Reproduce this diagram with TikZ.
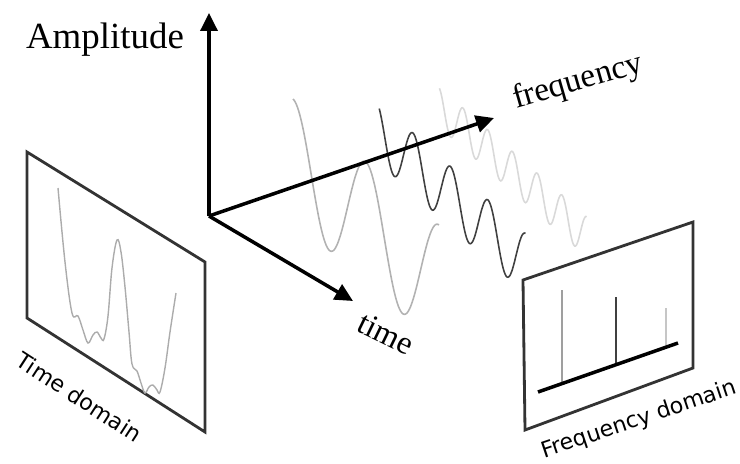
\documentclass[tikz,border=0pt]{standalone}
\usepackage{fontspec}
\setmainfont{Liberation Serif}
\newfontfamily\panelfont{DejaVu Sans}
\usetikzlibrary{arrows.meta}

\begin{document}
\begin{tikzpicture}[
    x=0.02cm,
    y=-0.02cm,
    axis/.style={
        line width=2pt,
        -{Triangle[width=0.34cm,length=0.36cm]}
    },
    panel/.style={
        draw=black!80,
        line width=1.6pt
    },
    wave/.style={
        draw=#1,
        line width=0.9pt,
        samples=160,
        smooth,
        variable=\t
    },
    spike/.style={
        draw=#1,
        line width=1.5pt
    },
    axislabel/.style={
        inner sep=0pt,
        font=\fontsize{#1}{#1}\selectfont
    },
    panellabel/.style={
        inner sep=0pt,
        font=\panelfont\fontsize{12.6}{14}\selectfont
    },
]

\useasboundingbox (0,0) rectangle (740,463);

\draw[wave=gray!60, domain=-1:1]    plot ({366+73*\t},   {162+63*\t+60*(1-cos(360*\t))});
\draw[wave=black!75, domain=-0.9:3]  plot ({413+37.5*\t}, {133+33.5*\t+30*(1-cos(360*\t))});
\draw[wave=gray!30, domain=-0.95:5] plot ({463+24.75*\t}, {108+21.75*\t+20*(1-cos(360*\t))});

\coordinate (origin) at (209,216);
\coordinate (amp)    at (209,13);
\coordinate (freq)   at (494,118);
\coordinate (time)   at (353,301);

\draw[axis] (origin) -- (amp);
\draw[axis] (origin) -- (freq);
\draw[axis] (origin) -- (time);

\node[axislabel=21]          (amplabel)  at (105,40)  {Amplitude};
\node[axislabel=19, rotate=16]  (freqlabel) at (578,82)  {frequency};
\node[axislabel=18.5, rotate=-26] (timelabel) at (386,334) {time};

\coordinate (td1) at (27,152);
\coordinate (td2) at (205,262);
\coordinate (td3) at (205,432);
\coordinate (td4) at (27,318);
\draw[panel] (td1) -- (td2) -- (td3) -- (td4) -- cycle;

\draw[gray!65, line width=0.8pt] plot[smooth, tension=0.6] coordinates {
    (58,188) (65,262) (72,313) (78,316) (83,330) (88,343) (93,335)
    (97,332) (101,338) (104,339) (108,316) (112,268) (117,240) (121,252)
    (125,287) (129,332) (132,364) (137,371) (141,383) (145,393) (149,387)
    (153,385) (157,390) (160,392) (165,368) (170,332) (176,293)};

\node[panellabel, rotate=-33] (tdlabel) at (79,397) {Time domain};

\coordinate (fd1) at (523,280);
\coordinate (fd2) at (693,222);
\coordinate (fd3) at (693,368);
\coordinate (fd4) at (525,430);
\draw[panel] (fd1) -- (fd2) -- (fd3) -- (fd4) -- cycle;

\coordinate (base1) at (538,392);
\coordinate (base2) at (678,343);
\coordinate (peak1) at (562,290);
\coordinate (foot1) at (562,384);
\coordinate (peak2) at (616,297);
\coordinate (foot2) at (616,365);
\coordinate (peak3) at (666,308);
\coordinate (foot3) at (666,347);

\draw[spike=gray!75]  (peak1) -- (foot1);
\draw[spike=black!75] (peak2) -- (foot2);
\draw[spike=gray!45]  (peak3) -- (foot3);
\draw[line width=2pt] (base1) -- (base2);

\node[panellabel, rotate=18.5] (fdlabel) at (639,420) {Frequency domain};

\end{tikzpicture}
\end{document}
